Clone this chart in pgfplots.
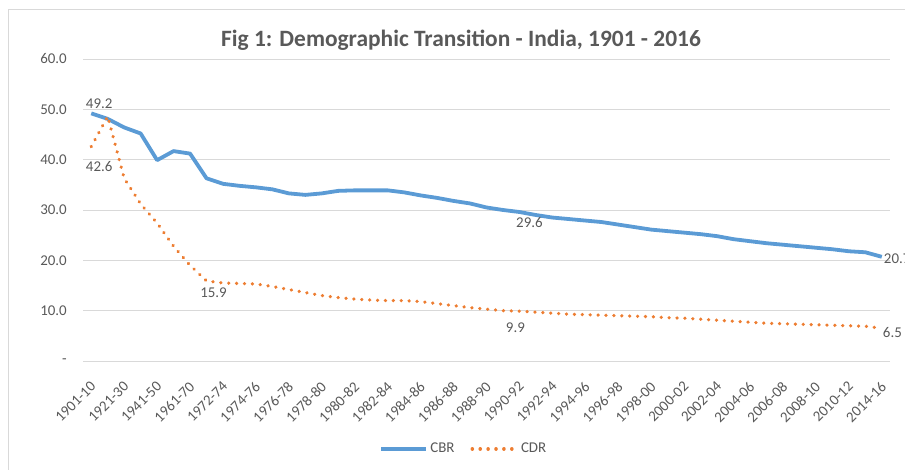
\documentclass[border=0pt]{standalone}
\usepackage{pgfplots}
\pgfplotsset{compat=1.18}
\usepackage{fontspec}
\setmainfont{Carlito}
\definecolor{txt}{HTML}{595959}
\definecolor{gridc}{HTML}{D9D9D9}
\definecolor{cbr}{HTML}{5B9BD5}
\definecolor{cdr}{HTML}{ED7D31}
\begin{document}
\begin{tikzpicture}[x=1bp,y=1bp]
\useasboundingbox (0,0) rectangle (905,470);
\clip (0,0) rectangle (905,470);
\draw[color=gridc, line width=0.75bp] (8,-10) rectangle (930,461);
\node[font=\bfseries\fontsize{23.5}{26}\selectfont, text=txt] at (461,430) {Fig 1: Demographic Transition - India, 1901 - 2016};
\begin{axis}[
  at={(83bp,109bp)}, anchor=south west, scale only axis,
  width=807bp, height=302bp,
  xmin=-0.5, xmax=48.5, ymin=0, ymax=60,
  ytick={0,10,...,60},
  yticklabels={-\hspace{6bp},10.0,20.0,30.0,40.0,50.0,60.0},
  xtick={0,2,...,48},
  xticklabels={1901-10,1921-30,1941-50,1961-70,1972-74,1974-76,1976-78,1978-80,1980-82,1982-84,1984-86,1986-88,1988-90,1990-92,1992-94,1994-96,1996-98,1998-00,2000-02,2002-04,2004-06,2006-08,2008-10,2010-12,2014-16},
  axis line style={draw=none},
  tick style={draw=none},
  ymajorgrids,
  major grid style={color=gridc, line width=0.9bp},
  tick label style={font=\fontsize{15}{18}\selectfont, text=txt},
  yticklabel style={anchor=east, inner sep=0pt, xshift=-16bp},
  xticklabel style={anchor=east, inner sep=0pt, xshift=2bp, yshift=-23bp, rotate=45},
  /pgf/number format/assume math mode=true,
  clip=false,
  legend columns=2,
  legend style={at={(0.472,-0.291)}, anchor=center, draw=none, fill=none,
    font=\fontsize{15}{18}\selectfont, text=txt,
    /tikz/every even column/.append style={column sep=14bp}},
  legend image code/.code={\draw[#1] (0bp,0bp) -- (45bp,0bp);},
]
\addplot[color=cbr, line width=3.8bp, line join=round] coordinates {
(0,49.2)(1,48.1)(2,46.4)(3,45.2)(4,39.9)(5,41.7)(6,41.2)(7,36.3)(8,35.2)(9,34.8)
(10,34.5)(11,34.1)(12,33.3)(13,33.0)(14,33.3)(15,33.8)(16,33.9)(17,33.9)(18,33.9)(19,33.5)
(20,32.9)(21,32.4)(22,31.8)(23,31.3)(24,30.5)(25,30.0)(26,29.6)(27,29.0)(28,28.5)(29,28.2)
(30,27.9)(31,27.6)(32,27.1)(33,26.6)(34,26.1)(35,25.8)(36,25.5)(37,25.2)(38,24.8)(39,24.2)
(40,23.8)(41,23.4)(42,23.1)(43,22.8)(44,22.5)(45,22.2)(46,21.8)(47,21.6)(48,20.7)
};
\addlegendentry{CBR}
\addplot[color=cdr, line width=3.5bp, line cap=round, dash pattern=on 0.1bp off 7.8bp] coordinates {
(0,42.6)(1,48.6)(2,36.3)(3,31.2)(4,27.4)(5,22.8)(6,19.0)(7,15.9)(8,15.5)(9,15.4)
(10,15.3)(11,14.8)(12,14.2)(13,13.6)(14,13.0)(15,12.6)(16,12.3)(17,12.1)(18,12.0)(19,12.0)
(20,11.8)(21,11.4)(22,11.0)(23,10.6)(24,10.3)(25,10.0)(26,9.9)(27,9.7)(28,9.5)(29,9.3)
(30,9.2)(31,9.1)(32,9.0)(33,8.9)(34,8.8)(35,8.6)(36,8.5)(37,8.3)(38,8.1)(39,7.9)
(40,7.7)(41,7.5)(42,7.4)(43,7.3)(44,7.2)(45,7.1)(46,7.0)(47,6.9)(48,6.5)
};
\addlegendentry{CDR}
\tikzset{lbl/.style={font=\fontsize{15}{18}\selectfont, text=txt, inner sep=0pt}}
\node[lbl, xshift=8bp, yshift=9.5bp] at (axis cs:0,49.2) {49.2};
\node[lbl, xshift=8bp, yshift=-19.5bp] at (axis cs:0,42.6) {42.6};
\node[lbl, xshift=7bp, yshift=-12bp] at (axis cs:7,15.9) {15.9};
\node[lbl, xshift=10bp, yshift=-11bp] at (axis cs:26,29.6) {29.6};
\node[lbl, xshift=-4bp, yshift=-17bp] at (axis cs:26,9.9) {9.9};
\node[lbl, anchor=west, xshift=2bp, yshift=-2bp] at (axis cs:48,20.7) {20.7};
\node[lbl, anchor=west, xshift=1bp, yshift=-4bp] at (axis cs:48,6.5) {6.5};
\end{axis}
\end{tikzpicture}
\end{document}
